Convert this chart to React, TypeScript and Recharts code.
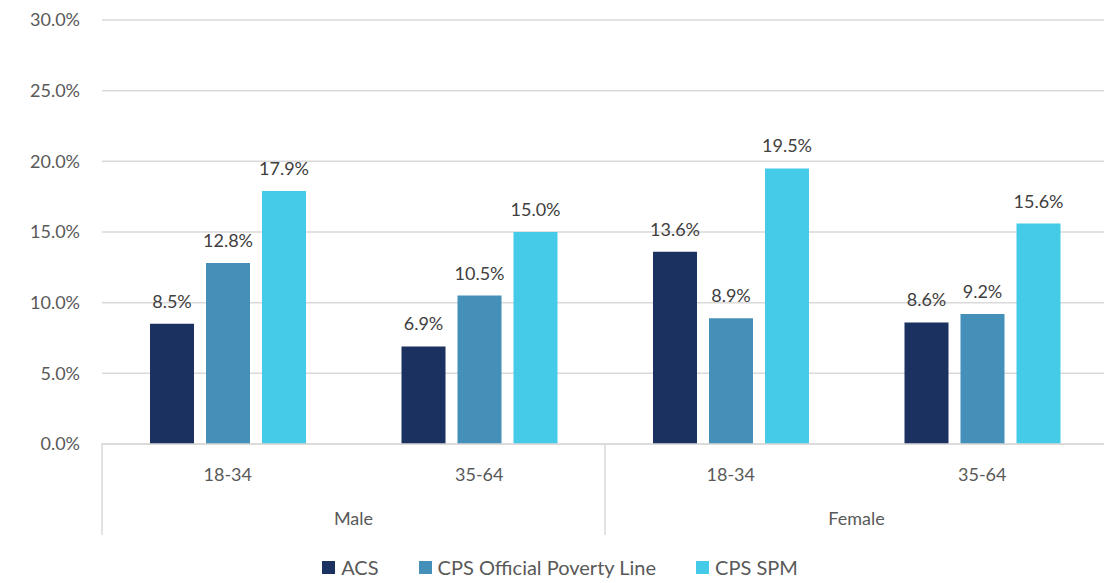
import { Bar, BarChart, CartesianGrid, LabelList, Legend, XAxis, YAxis } from "recharts";

const ages = ["18-34", "35-64", "18-34", "35-64"];
const genders = ["Male", "Male", "Female", "Female"];
const acs = [8.5, 6.9, 13.6, 8.6];
const cpsOfficial = [12.8, 10.5, 8.9, 9.2];
const cpsSpm = [17.9, 15.0, 19.5, 15.6];
const yTicks = [0, 5, 10, 15, 20, 25, 30];

const SERIES = [
  { key: "acs", name: "ACS", color: "#1b3160" },
  { key: "cpsOfficial", name: "CPS Official Poverty Line", color: "#4590b9" },
  { key: "cpsSpm", name: "CPS SPM", color: "#45cbe8" },
];

const FONT = "Lato, 'Open Sans', sans-serif";
const W = 1104;
const H = 575;
const PLOT_LEFT = 94;
const PLOT_RIGHT = 1100;
const PLOT_BOTTOM = 435;
const BAND = (PLOT_RIGHT - PLOT_LEFT) / ages.length;

const data = ages.map((age, i) => ({
  age,
  gender: genders[i],
  acs: acs[i],
  cpsOfficial: cpsOfficial[i],
  cpsSpm: cpsSpm[i],
}));

function AgeTick(props: any) {
  const { x, index } = props;
  const left = x - BAND / 2;
  const right = x + BAND / 2;
  const isGroupStart = index === 0 || genders[index] !== genders[index - 1];
  const isLast = index === ages.length - 1;
  return (
    <g>
      <text x={x} y={PLOT_BOTTOM + 33} textAnchor="middle" dominantBaseline="middle" fill="#595959" fontSize={18} fontFamily={FONT}>
        {ages[index]}
      </text>
      {isGroupStart && (
        <>
          <line x1={left} x2={left} y1={PLOT_BOTTOM} y2={PLOT_BOTTOM + 92} stroke="#d9d9d9" strokeWidth={1.5} />
          <text x={right} y={PLOT_BOTTOM + 77} textAnchor="middle" dominantBaseline="middle" fill="#595959" fontSize={18} fontFamily={FONT}>
            {genders[index]}
          </text>
        </>
      )}
      {isLast && <line x1={right} x2={right} y1={PLOT_BOTTOM} y2={PLOT_BOTTOM + 92} stroke="#d9d9d9" strokeWidth={1.5} />}
    </g>
  );
}

function LegendContent() {
  return (
    <div style={{ display: "flex", justifyContent: "center", gap: 40, fontFamily: FONT, fontSize: 20, color: "#595959" }}>
      {SERIES.map((s) => (
        <div key={s.key} style={{ display: "flex", alignItems: "center", gap: 6 }}>
          <span style={{ display: "inline-block", width: 13, height: 13, background: s.color }} />
          <span>{s.name}</span>
        </div>
      ))}
    </div>
  );
}

export default function App() {
  return (
    <div style={{ background: "#fff", width: W, height: H }}>
      <BarChart
        width={W}
        height={H}
        data={data}
        margin={{ top: 12, right: 4, left: 0, bottom: 15 }}
        barCategoryGap={48}
        barGap={12}
      >
        <CartesianGrid vertical={false} stroke="#d9d9d9" strokeWidth={1.5} />
        <XAxis
          dataKey="age"
          height={100}
          axisLine={{ stroke: "#d9d9d9", strokeWidth: 1.5 }}
          tickLine={false}
          tick={<AgeTick />}
          interval={0}
        />
        <YAxis
          width={94}
          domain={[0, 30]}
          ticks={yTicks}
          axisLine={false}
          tickLine={false}
          tickMargin={16}
          tickFormatter={(v: number) => `${v.toFixed(1)}%`}
          tick={{ fill: "#595959", fontSize: 18, fontFamily: FONT }}
        />
        <Legend content={<LegendContent />} wrapperStyle={{ top: 547, left: 0, width: W }} />
        {SERIES.map((s) => (
          <Bar key={s.key} dataKey={s.key} name={s.name} fill={s.color} isAnimationActive={false}>
            <LabelList
              dataKey={s.key}
              position="top"
              offset={16}
              formatter={(v: number) => `${v.toFixed(1)}%`}
              fill="#404040"
              fontSize={18}
              fontFamily={FONT}
            />
          </Bar>
        ))}
      </BarChart>
    </div>
  );
}
